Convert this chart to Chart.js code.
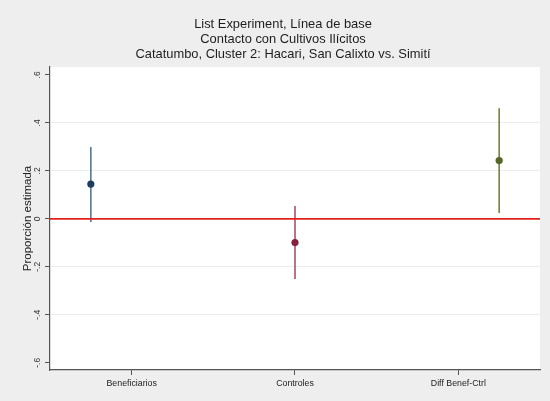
<!DOCTYPE html>
<html>
<head>
<meta charset="utf-8">
<script src="https://cdn.jsdelivr.net/npm/chart.js@4/dist/chart.umd.min.js"></script>
<style>
  html, body { margin: 0; padding: 0; background: #eeeeee; }
  #wrap { width: 550px; height: 401px; position: relative; }
</style>
</head>
<body>
<div id="wrap"><canvas id="c" width="550" height="401"></canvas></div>
<script>
// Estimated proportions with 95% intervals
const groups = ['Beneficiarios', 'Controles', 'Diff Benef-Ctrl'];
const groupX = [1, 2, 3];
const estimates = [0.145, -0.099, 0.243];
const lowerCI = [-0.013, -0.251, 0.024];
const upperCI = [0.300, 0.054, 0.461];

// Category label positions on the x axis
const labelX = [1.2, 2.0, 2.8];

// Y axis ticks
const yTickValues = [0.6, 0.4, 0.2, 0, -0.2, -0.4, -0.6];
const yTickLabels = ['.6', '.4', '.2', '0', '-.2', '-.4', '-.6'];

const titleLines = [
  'List Experiment, Línea de base',
  'Contacto con Cultivos Ilícitos',
  'Catatumbo, Cluster 2: Hacari, San Calixto vs. Simití'
];
const yTitle = 'Proporción estimada';

const markerColors = ['#1d3d5c', '#85203f', '#56662a'];
const ciColors = ['#5b7691', '#a9506f', '#76852f'];

const FONT = 'Arial, "Liberation Sans", Helvetica, sans-serif';

const datasets = [];
groups.forEach((g, i) => {
  datasets.push({
    type: 'line',
    label: g + ' IC',
    data: [{ x: groupX[i], y: lowerCI[i] }, { x: groupX[i], y: upperCI[i] }],
    borderColor: ciColors[i],
    borderWidth: 1.6,
    pointRadius: 0,
    showLine: true,
    order: 3
  });
});
datasets.push({
  type: 'line',
  label: 'cero',
  data: [{ x: 0.8, y: 0 }, { x: 3.2, y: 0 }],
  borderColor: '#e4201c',
  borderWidth: 1.6,
  pointRadius: 0,
  showLine: true,
  order: 2
});
groups.forEach((g, i) => {
  datasets.push({
    type: 'scatter',
    label: g,
    data: [{ x: groupX[i], y: estimates[i] }],
    backgroundColor: markerColors[i],
    borderColor: markerColors[i],
    pointRadius: 3.6,
    pointBorderWidth: 0,
    order: 1
  });
});

// Plot region fill, title and rotated y tick labels
const decor = {
  id: 'decor',
  beforeDraw(chart) {
    const { ctx, chartArea: a } = chart;
    ctx.save();
    ctx.fillStyle = '#eeeeee';
    ctx.fillRect(0, 0, chart.width, chart.height);
    ctx.fillStyle = '#ffffff';
    ctx.fillRect(a.left, a.top, a.right - a.left, a.bottom - a.top);
    ctx.restore();
  },
  afterDraw(chart) {
    const { ctx } = chart;
    const ys = chart.scales.y;
    ctx.save();
    ctx.fillStyle = '#1e1e1e';
    ctx.font = '12.9px ' + FONT;
    ctx.textAlign = 'center';
    ctx.textBaseline = 'middle';
    titleLines.forEach((t, i) => ctx.fillText(t, 283, 24 + i * 15));

    ctx.fillStyle = '#333333';
    ctx.font = '8.5px ' + FONT;
    yTickValues.forEach((v, i) => {
      const py = ys.getPixelForValue(v);
      ctx.save();
      ctx.translate(38, py);
      ctx.rotate(-Math.PI / 2);
      ctx.fillText(yTickLabels[i], 0, 0);
      ctx.restore();
    });
    ctx.restore();
  }
};

new Chart(document.getElementById('c'), {
  data: { datasets },
  options: {
    responsive: false,
    animation: false,
    layout: { padding: { top: 67, right: 10, left: 0, bottom: 0 } },
    plugins: { legend: { display: false }, tooltip: { enabled: false }, title: { display: false } },
    scales: {
      x: {
        type: 'linear',
        min: 0.8,
        max: 3.2,
        afterBuildTicks(scale) { scale.ticks = labelX.map(v => ({ value: v })); },
        afterFit(scale) { scale.height = 31; },
        border: { color: '#555555', width: 1.2 },
        grid: { drawOnChartArea: false, tickLength: 5, tickColor: '#555555', tickWidth: 1 },
        ticks: {
          autoSkip: false,
          maxRotation: 0,
          padding: 3,
          color: '#222222',
          font: { family: FONT, size: 8.8 },
          callback(v) {
            const i = labelX.findIndex(x => Math.abs(x - v) < 1e-6);
            return i >= 0 ? groups[i] : '';
          }
        }
      },
      y: {
        type: 'linear',
        min: -0.63,
        max: 0.633,
        afterBuildTicks(scale) { scale.ticks = yTickValues.map(v => ({ value: v })); },
        afterFit(scale) { scale.width = 50; },
        border: { color: '#555555', width: 1.2 },
        grid: {
          tickLength: 5,
          tickColor: '#555555',
          tickWidth: 1,
          lineWidth: 1,
          color(ctx) {
            const v = ctx.tick ? ctx.tick.value : 0;
            if (Math.abs(v) < 1e-6 || Math.abs(Math.abs(v) - 0.6) < 1e-6) return 'rgba(0,0,0,0)';
            return '#e9edf0';
          }
        },
        ticks: { display: false },
        title: {
          display: true,
          text: yTitle,
          color: '#222222',
          font: { family: FONT, size: 11.5 },
          padding: { top: 21, bottom: 0 }
        }
      }
    }
  },
  plugins: [decor]
});
</script>
</body>
</html>
